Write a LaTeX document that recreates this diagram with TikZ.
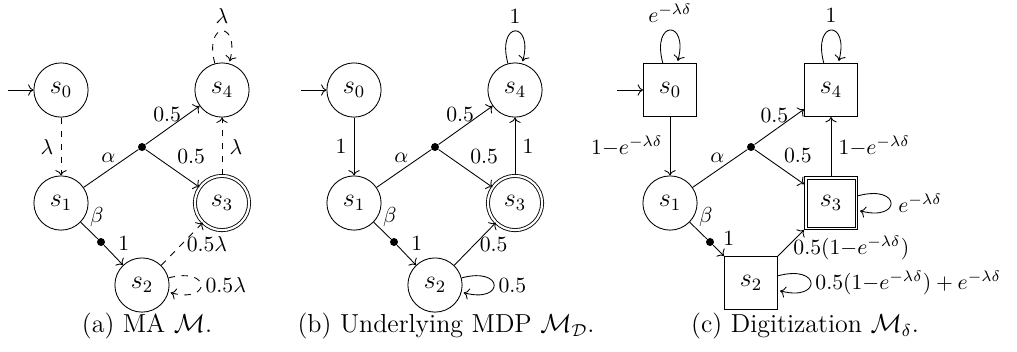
\documentclass[tikz,border=0pt]{standalone}
\usepackage{amsmath}
\usepackage{amssymb}
\usepackage{tikz}
\usetikzlibrary{arrows.meta, calc}
\tikzset{
  mstate/.style={circle, draw, minimum size=25pt, inner sep=0pt, font=\large},
  dstate/.style={rectangle, draw, minimum size=24.5pt, inner sep=0pt, font=\large},
  goal/.style={double, double distance=1pt},
  act/.style={circle, fill, inner sep=1.3pt},
  trans/.style={->},
  rate/.style={->, dashed},
  lbl/.style={inner sep=2pt},
  subcap/.style={font=\large}
}

\begin{document}
\begin{tikzpicture}[x=0.4612pt, y=0.4612pt]
            \useasboundingbox (0,0) rectangle (1017,-351);

            % (a) MA
            \node[mstate] (a0) at (61,-90) {$s_0$};
            \node[mstate] (a1) at (61,-203) {$s_1$};
            \node[mstate] (a2) at (142,-285) {$s_2$};
            \node[mstate, goal] (a3) at (222,-203) {$s_3$};
            \node[mstate] (a4) at (222,-90) {$s_4$};
            \node[act] (aa) at (142,-147) {};
            \node[act] (ab) at (101,-242) {};
            \coordinate (ai) at (8,-90);

            \draw[trans] (ai) -- (a0);
            \draw[rate] (a0) -- node[left] {$\lambda$} (a1);
            \draw (a1) -- node[above, pos=0.45] {$\alpha$} (aa);
            \draw[trans] (aa) -- node[above, pos=0.4] {$0.5$} (a4);
            \draw[trans] (aa) -- node[above right, lbl] {$0.5$} (a3);
            \draw (a1) -- node[pos=0.1, right, yshift=3pt] {$\beta$} (ab);
            \draw[trans] (ab) -- node[above right, lbl] {$1$} (a2);
            \draw[rate] (a2) -- node[right, lbl] {$0.5\lambda$} (a3);
            \draw[rate] (a3) -- node[right] {$\lambda$} (a4);
            \path (a4) edge[rate, loop above] node[above] {$\lambda$} (a4);
            \path (a2) edge[rate, loop right] node[right, lbl] {$0.5\lambda$} (a2);
            \node[subcap] (capa) at (147,-326) {(a) MA $\mathcal{M}$.};

            % (b) underlying MDP
            \node[mstate] (b0) at (354,-90) {$s_0$};
            \node[mstate] (b1) at (354,-203) {$s_1$};
            \node[mstate] (b2) at (435,-285) {$s_2$};
            \node[mstate, goal] (b3) at (515,-203) {$s_3$};
            \node[mstate] (b4) at (515,-90) {$s_4$};
            \node[act] (ba) at (435,-147) {};
            \node[act] (bb) at (394,-242) {};
            \coordinate (bi) at (301,-90);

            \draw[trans] (bi) -- (b0);
            \draw[trans] (b0) -- node[left] {$1$} (b1);
            \draw (b1) -- node[above, pos=0.45] {$\alpha$} (ba);
            \draw[trans] (ba) -- node[above, pos=0.4] {$0.5$} (b4);
            \draw[trans] (ba) -- node[above right, lbl] {$0.5$} (b3);
            \draw (b1) -- node[pos=0.1, right, yshift=3pt] {$\beta$} (bb);
            \draw[trans] (bb) -- node[above right, lbl] {$1$} (b2);
            \draw[trans] (b2) -- node[right, lbl] {$0.5$} (b3);
            \draw[trans] (b3) -- node[right] {$1$} (b4);
            \path (b4) edge[trans, loop above] node[above] {$1$} (b4);
            \path (b2) edge[trans, loop right] node[right, lbl] {$0.5$} (b2);
            \node[subcap] (capb) at (446,-326) {(b) Underlying MDP $\mathcal{M}_{\mathcal{D}}$.};

            % (c) digitization
            \node[dstate] (c0) at (670,-90) {$s_0$};
            \node[mstate] (c1) at (670,-203) {$s_1$};
            \node[dstate] (c2) at (751,-283) {$s_2$};
            \node[dstate] (c3) at (831,-203) {$s_3$};
            \node[dstate] (c4) at (831,-90) {$s_4$};
            \node[act] (ca) at (751,-147) {};
            \node[act] (cb) at (710,-242) {};
            \coordinate (ci) at (617,-90);
            % inner frame of goal box
            \draw ($(c3.south west)+(1.4pt,1.4pt)$) rectangle ($(c3.north east)-(1.4pt,1.4pt)$);

            \draw[trans] (ci) -- (c0);
            \draw[trans] (c0) -- node[left] {$1{-}e^{-\lambda\delta}$} (c1);
            \draw (c1) -- node[above, pos=0.45] {$\alpha$} (ca);
            \draw[trans] (ca) -- node[above, pos=0.4] {$0.5$} (c4);
            \draw[trans] (ca) -- node[above right, lbl] {$0.5$} (c3);
            \draw (c1) -- node[pos=0.1, right, yshift=3pt] {$\beta$} (cb);
            \draw[trans] (cb) -- node[above right, lbl] {$1$} (c2);
            \draw[trans] (c2) -- node[pos=0.3, right] {$0.5(1{-}e^{-\lambda\delta})$} (c3);
            \draw[trans] (c3) -- node[right] {$1{-}e^{-\lambda\delta}$} (c4);
            \path (c0) edge[trans, loop above] node[above] {$e^{-\lambda\delta}$} (c0);
            \path (c4) edge[trans, loop above] node[above] {$1$} (c4);
            \path (c3) edge[trans, loop right] node[right] {$e^{-\lambda\delta}$} (c3);
            \path (c2) edge[trans, loop right] node[right, lbl] {$0.5(1{-}e^{-\lambda\delta}) + e^{-\lambda\delta}$} (c2);
            \node[subcap] (capc) at (805,-326) {(c) Digitization $\mathcal{M}_\delta$.};

\end{tikzpicture}
\end{document}
